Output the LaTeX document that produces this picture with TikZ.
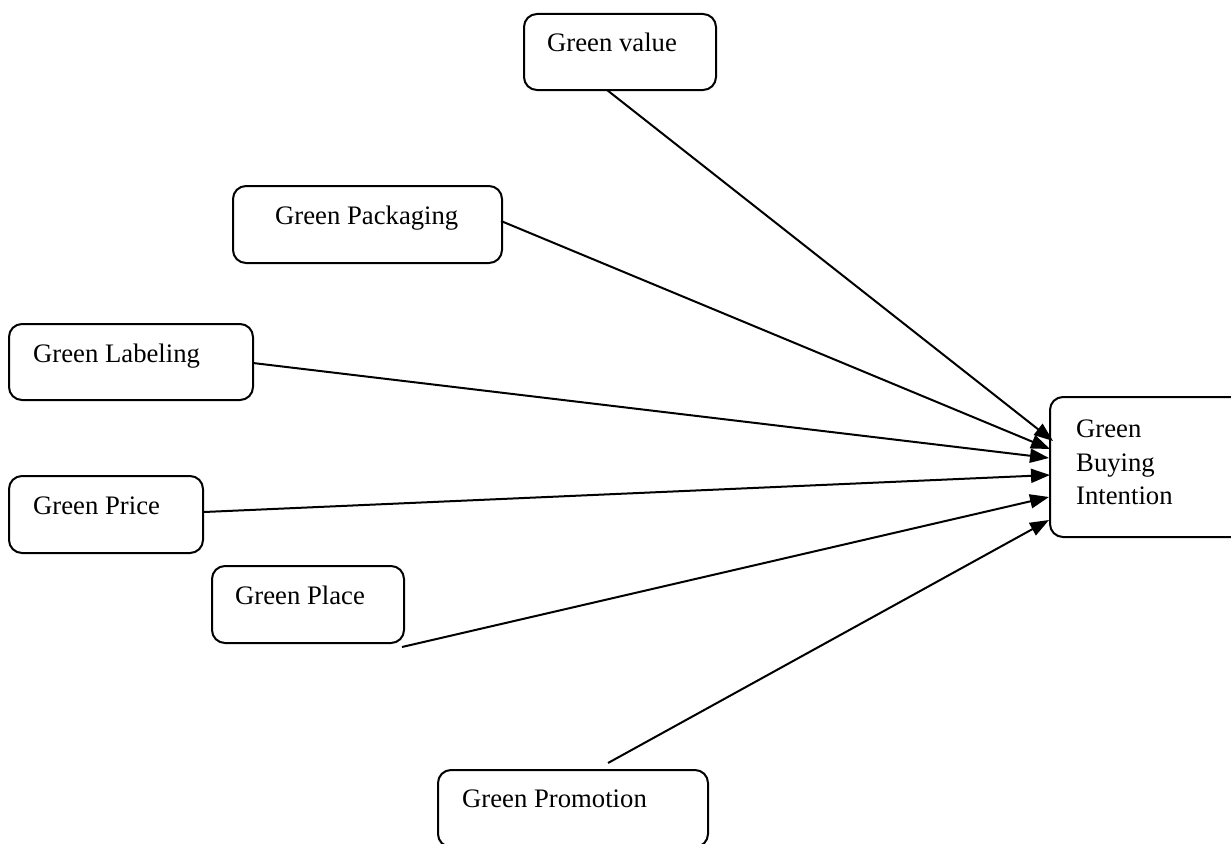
\documentclass[tikz,border=0pt]{standalone}
\usepackage{fontspec}
\setmainfont{Liberation Serif}
\usetikzlibrary{arrows.meta}
\tikzset{
  box/.style={draw=black, line width=2pt, rounded corners=13pt, anchor=north west, inner sep=0pt, fill=white},
  lbl/.style={anchor=base west, inner sep=0pt, font=\fontsize{26.7}{33.5}\selectfont},
  conn/.style={line width=2pt, -{Triangle[length=19pt,width=14pt]}}
}
\begin{document}
\begin{tikzpicture}[x=1pt,y=-1pt]
\useasboundingbox (0,0) rectangle (1231,843);
\clip (0,0) rectangle (1231,843);
\fill[white] (0,0) rectangle (1231,843);
% boxes
\node[box, minimum width=192pt, minimum height=76pt] (value) at (523,13) {};
\node[box, minimum width=269pt, minimum height=77pt] (pack) at (232,185) {};
\node[box, minimum width=244pt, minimum height=76pt] (label) at (8,323) {};
\node[box, minimum width=194pt, minimum height=77pt] (price) at (8,475) {};
\node[box, minimum width=192pt, minimum height=77pt] (place) at (211,565) {};
\node[box, minimum width=270pt, minimum height=77pt] (promo) at (437,769) {};
\node[box, minimum width=200pt, minimum height=140pt] (gbi) at (1049,396) {};
% texts
\node[lbl] (tvalue) at (547,52) {Green value};
\node[lbl] (tpack) at (275,224) {Green Packaging};
\node[lbl] (tlabel) at (33,362) {Green Labeling};
\node[lbl] (tprice) at (33,514) {Green Price};
\node[lbl] (tplace) at (235,604) {Green Place};
\node[lbl] (tpromo) at (462,807) {Green Promotion};
\node[lbl] (tgbi1) at (1076,437) {Green};
\node[lbl] (tgbi2) at (1076,471) {Buying};
\node[lbl] (tgbi3) at (1076,504) {Intention};
% connector ends
\coordinate (svalue) at (607,90);
\coordinate (spack) at (501,221);
\coordinate (slabel) at (253,363);
\coordinate (sprice) at (204,512);
\coordinate (splace) at (402,647);
\coordinate (spromo) at (608,763);
\coordinate (evalue) at (1053,441);
\coordinate (epack) at (1050,449);
\coordinate (elabel) at (1049,458);
\coordinate (eprice) at (1050,475);
\coordinate (eplace) at (1049,497);
\coordinate (epromo) at (1049,520);
\draw[conn] (svalue) -- (evalue);
\draw[conn] (spack) -- (epack);
\draw[conn] (slabel) -- (elabel);
\draw[conn] (sprice) -- (eprice);
\draw[conn] (splace) -- (eplace);
\draw[conn] (spromo) -- (epromo);
\end{tikzpicture}
\end{document}
